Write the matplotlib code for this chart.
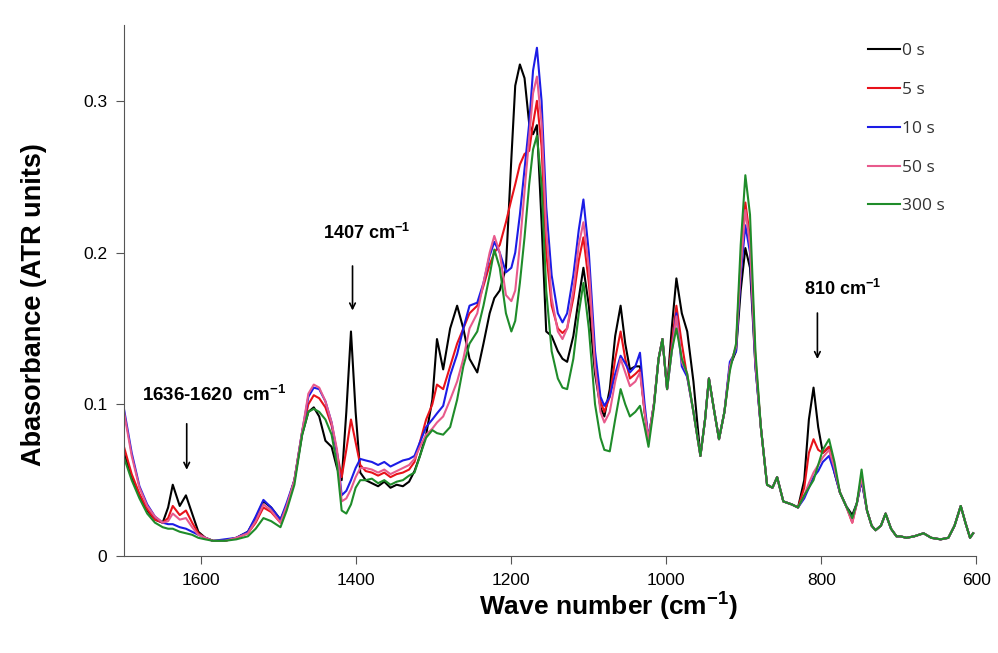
import numpy as np
import matplotlib.pyplot as plt

plt.rcParams['font.family'] = ['Liberation Sans', 'DejaVu Sans']
plt.rcParams['mathtext.fontset'] = 'custom'
plt.rcParams['mathtext.rm'] = 'Liberation Sans:bold'
plt.rcParams['mathtext.bf'] = 'Liberation Sans:bold'
plt.rcParams['mathtext.default'] = 'rm'

# wavenumbers (cm-1)
wn = [1700, 1690, 1680, 1670, 1660, 1650, 1643, 1637, 1628, 1620, 1612, 1604, 1595, 1585,
      1570, 1555, 1540, 1530, 1520, 1510, 1498, 1490, 1480, 1470, 1462, 1455, 1448, 1440,
      1432, 1425, 1419, 1413, 1407, 1401, 1395, 1388, 1380, 1372, 1364, 1356, 1348, 1340,
      1332, 1325, 1318, 1310, 1302, 1296, 1288, 1279, 1270, 1262, 1254, 1244, 1236, 1228,
      1222, 1215, 1207, 1200, 1195, 1189, 1183, 1177, 1172, 1167, 1161, 1155, 1148, 1140,
      1134, 1128, 1120, 1113, 1107, 1100, 1092, 1085, 1080, 1073, 1066, 1059, 1053, 1047,
      1040, 1034, 1028, 1023, 1016, 1010, 1005, 999, 993, 987, 980, 973, 965, 956, 950,
      945, 938, 932, 925, 918, 910, 904, 898, 892, 885, 878, 870, 863, 857, 849, 838, 830,
      822, 816, 810, 804, 798, 790, 783, 776, 768, 760, 754, 748, 741, 735, 730, 723, 717,
      710, 703, 698, 690, 680, 668, 658, 646, 636, 628, 620, 614, 608, 604]

s0 = [.068, .052, .040, .030, .024, .022, .032, .047, .033, .040, .028, .016, .012, .010,
      .010, .012, .016, .025, .036, .032, .024, .033, .050, .080, .095, .098, .092, .076,
      .072, .058, .050, .095, .148, .095, .055, .050, .048, .046, .049, .045, .047, .046,
      .049, .056, .066, .080, .103, .143, .123, .150, .165, .150, .130, .121, .140, .160,
      .170, .175, .190, .262, .310, .324, .315, .285, .278, .284, .220, .148, .145, .135,
      .130, .128, .145, .170, .190, .165, .120, .098, .092, .110, .145, .165, .140, .123,
      .125, .125, .095, .077, .100, .130, .143, .110, .150, .183, .160, .148, .115, .066, .090,
      .117, .095, .077, .095, .125, .135, .175, .203, .190, .125, .085, .047, .045, .052, .036, .034, .032,
      .050, .090, .111, .085, .068, .072, .055, .042, .033, .027, .035, .050, .030, .020, .017, .020, .028,
      .018, .013, .013, .012, .013, .015, .012, .011, .012, .020, .033, .022, .012, .015]

s5 = [.072, .054, .041, .031, .024, .022, .025, .033, .027, .030, .022, .015, .012, .010,
      .010, .012, .015, .022, .032, .029, .022, .032, .050, .082, .100, .106, .104, .098,
      .086, .068, .052, .070, .090, .075, .060, .056, .055, .053, .055, .052, .054, .055,
      .057, .062, .075, .090, .100, .113, .110, .125, .140, .150, .160, .165, .178, .192,
      .200, .205, .220, .235, .245, .258, .265, .267, .285, .300, .270, .200, .165, .150,
      .147, .150, .170, .195, .210, .180, .130, .102, .095, .105, .130, .148, .130, .117,
      .120, .123, .095, .077, .100, .130, .143, .110, .140, .165, .140, .118, .095, .066, .090,
      .117, .095, .077, .095, .125, .138, .195, .233, .210, .130, .085, .047, .045, .052, .036, .034, .032,
      .045, .068, .077, .070, .068, .072, .058, .042, .033, .022, .035, .052, .030, .020, .017, .020, .028,
      .018, .013, .013, .012, .013, .015, .012, .011, .012, .020, .033, .022, .012, .015]

s10 = [.097, .068, .046, .034, .026, .022, .021, .021, .019, .018, .016, .014, .012, .010,
       .011, .012, .016, .026, .037, .032, .024, .035, .050, .082, .105, .111, .110, .102,
       .088, .068, .040, .043, .050, .058, .064, .063, .062, .060, .062, .059, .061, .063,
       .064, .066, .075, .085, .090, .094, .099, .119, .133, .150, .165, .167, .180, .198,
       .207, .200, .187, .190, .200, .225, .255, .285, .320, .335, .300, .230, .185, .160,
       .154, .160, .185, .215, .235, .200, .135, .105, .099, .105, .120, .132, .127, .121,
       .125, .134, .100, .077, .100, .130, .143, .110, .135, .160, .125, .118, .095, .066, .090,
       .117, .095, .077, .095, .128, .135, .185, .218, .200, .125, .085, .047, .045, .052, .036, .034, .032,
       .038, .045, .052, .056, .062, .066, .055, .042, .033, .024, .035, .050, .030, .020, .017, .020, .028,
       .018, .013, .013, .012, .013, .015, .012, .011, .012, .020, .033, .022, .012, .015]

s50 = [.095, .066, .045, .033, .026, .022, .023, .028, .024, .025, .019, .014, .012, .010,
       .010, .012, .015, .023, .034, .030, .022, .033, .050, .082, .107, .113, .111, .102,
       .088, .070, .036, .038, .044, .052, .058, .058, .057, .055, .057, .054, .056, .058,
       .060, .064, .072, .080, .084, .088, .092, .103, .115, .130, .150, .160, .180, .200,
       .211, .200, .172, .168, .175, .205, .240, .275, .305, .316, .285, .215, .170, .148,
       .143, .150, .175, .205, .220, .190, .125, .095, .088, .095, .115, .130, .121, .112,
       .115, .121, .095, .077, .100, .130, .143, .110, .135, .158, .128, .120, .095, .066, .090,
       .117, .095, .077, .095, .125, .138, .190, .228, .205, .128, .085, .047, .045, .052, .036, .034, .032,
       .040, .048, .055, .060, .065, .070, .058, .042, .033, .022, .035, .052, .030, .020, .017, .020, .028,
       .018, .013, .013, .012, .013, .015, .012, .011, .012, .020, .033, .022, .012, .015]

s300 = [.065, .050, .038, .028, .022, .019, .018, .018, .016, .015, .014, .012, .011, .010,
        .010, .011, .013, .018, .025, .023, .019, .030, .047, .080, .095, .097, .095, .090,
        .080, .060, .030, .028, .034, .045, .050, .050, .051, .048, .050, .047, .049, .050,
        .053, .055, .066, .078, .083, .081, .080, .085, .103, .125, .140, .148, .165, .185,
        .202, .190, .160, .148, .155, .180, .210, .245, .268, .277, .245, .175, .135, .117,
        .111, .110, .130, .160, .180, .150, .100, .078, .070, .069, .090, .110, .100, .092,
        .095, .099, .085, .072, .098, .130, .143, .110, .135, .150, .130, .120, .095, .066, .090,
        .117, .095, .077, .095, .122, .140, .205, .251, .225, .135, .085, .047, .045, .052, .036, .034, .032,
        .040, .045, .050, .060, .070, .077, .062, .042, .033, .025, .035, .057, .030, .020, .017, .020, .028,
        .018, .013, .013, .012, .013, .015, .012, .011, .012, .020, .033, .022, .012, .015]

labels = ['0 s', '5 s', '10 s', '50 s', '300 s']
colors = ['#000000', '#e8121a', '#1c1ce6', '#e85a8c', '#1f8c2a']
series = [s0, s5, s10, s50, s300]

fig = plt.figure(figsize=(9.98, 6.53), dpi=100)
ax = fig.add_axes([0.1242, 0.1485, 0.854, 0.8132])

for s, c, lab in zip(series, colors, labels):
    ax.plot(wn, s, color=c, lw=1.5, label=lab)

ax.set_xlim(1700, 600)
ax.set_ylim(0, 0.35)
ax.set_xticks([1600, 1400, 1200, 1000, 800, 600])
ax.set_yticks([0, 0.1, 0.2, 0.3])
ax.set_yticklabels(['0', '0.1', '0.2', '0.3'])
ax.tick_params(labelsize=12.5, length=6, color='#555555', pad=6)
for side in ['top', 'right']:
    ax.spines[side].set_visible(False)
for side in ['left', 'bottom']:
    ax.spines[side].set_color('#555555')

ax.set_xlabel('Wave number (cm$^{-1}$)', fontsize=19, fontweight='bold')
ax.xaxis.set_label_coords(0.568, -0.066)
ax.set_ylabel('Abasorbance (ATR units)', fontsize=19.5, fontweight='bold')
ax.yaxis.set_label_coords(-0.09, 0.473)

arrow = dict(arrowstyle='->', color='black', lw=1.2)
ax.annotate('', xy=(1619, 0.055), xytext=(1619, 0.089), arrowprops=arrow)
ax.text(1584, 0.106, '1636-1620  cm$^{-1}$', fontsize=13.5, fontweight='bold', ha='center', va='center')
ax.annotate('', xy=(1405, 0.160), xytext=(1405, 0.193), arrowprops=arrow)
ax.text(1387, 0.213, '1407 cm$^{-1}$', fontsize=13, fontweight='bold', ha='center', va='center')
ax.annotate('', xy=(805, 0.128), xytext=(805, 0.162), arrowprops=arrow)
ax.text(773, 0.176, '810 cm$^{-1}$', fontsize=13, fontweight='bold', ha='center', va='center')

leg = ax.legend(loc='upper left', bbox_to_anchor=(0.855, 0.995), frameon=False, handlelength=1.8,
                handletextpad=0.12, labelspacing=1.3, prop={'family': 'Open Sans', 'size': 12.5})
for t in leg.get_texts():
    t.set_color('#333333')

fig.savefig('out.png', dpi=100)
